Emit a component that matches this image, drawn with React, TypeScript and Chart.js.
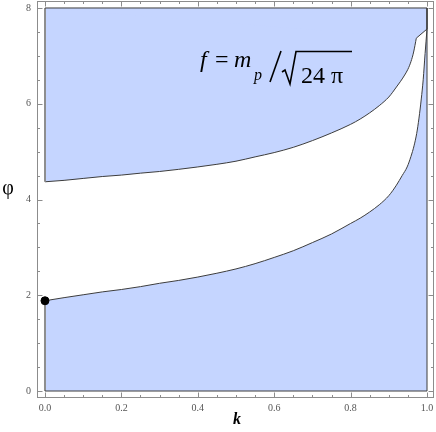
import React, { useEffect, useRef } from 'react';
import { Chart, registerables } from 'chart.js';
Chart.register(...registerables);

// Upper boundary curve φ_upper(k) (smooth part)
const upperK = [0, 0.05, 0.1, 0.15, 0.2, 0.25, 0.3, 0.35, 0.4, 0.45, 0.5, 0.55, 0.6, 0.65, 0.7, 0.75, 0.8, 0.825, 0.85, 0.875, 0.9, 0.91, 0.92, 0.93, 0.94, 0.95, 0.958, 0.965, 0.972];
const upperPhi = [4.37, 4.4, 4.44, 4.48, 4.51, 4.55, 4.585, 4.63, 4.68, 4.735, 4.8, 4.89, 4.98, 5.09, 5.23, 5.39, 5.57, 5.68, 5.81, 5.96, 6.14, 6.24, 6.35, 6.46, 6.58, 6.72, 6.88, 7.08, 7.37];
// Meeting point of both boundaries at k = 1
const cornerK = 1.0;
const cornerPhi = 7.56;
// Lower boundary curve φ_lower(k)
const lowerK = [0, 0.05, 0.1, 0.15, 0.2, 0.25, 0.3, 0.35, 0.4, 0.45, 0.5, 0.55, 0.6, 0.65, 0.7, 0.75, 0.8, 0.825, 0.85, 0.875, 0.9, 0.92, 0.935, 0.948, 0.958, 0.966, 0.973, 0.979, 0.985, 0.99, 0.995, 1.0];
const lowerPhi = [1.885, 1.95, 2.01, 2.07, 2.12, 2.18, 2.25, 2.31, 2.38, 2.46, 2.55, 2.66, 2.79, 2.93, 3.1, 3.28, 3.5, 3.61, 3.74, 3.89, 4.08, 4.3, 4.5, 4.68, 4.9, 5.12, 5.38, 5.7, 6.1, 6.5, 7.05, 7.56];
// Marked point
const markK = [0];
const markPhi = [1.885];
// Region limits
const kLo = 0;
const kHi = 1;
const phiLo = 0;
const phiHi = 8;
// Ticks
const xTicks = [0, 0.2, 0.4, 0.6, 0.8, 1.0];
const xTickLabels = ['0.0', '0.2', '0.4', '0.6', '0.8', '1.0'];
const yTicks = [0, 2, 4, 6, 8];
const yTickLabels = ['0', '2', '4', '6', '8'];
const xMinorStep = 0.05;
const yMinorStep = 0.5;
const xTitle = 'k';
const yTitle = 'φ';

const FILL = 'rgb(197,213,255)';
const EDGE = '#3c3c3c';
const SIDE = '#8e8e8e';
const SERIF = '"Liberation Serif", "DejaVu Serif", serif';

export default function App() {
  const ref = useRef<HTMLCanvasElement | null>(null);
  useEffect(() => {
    document.body.style.margin = '0';
    const canvas = ref.current!;
    const upper = upperK.map((k, i) => ({ x: k, y: upperPhi[i] }));
    const lower = lowerK.map((k, i) => ({ x: k, y: lowerPhi[i] }));
    const uEnd = upper[upper.length - 1];
    const lEnd = lower[lower.length - 1];
    const corner = { x: cornerK, y: cornerPhi };
    const topEdge = [upper[0], { x: kLo, y: phiHi }, { x: kHi, y: phiHi }, corner, uEnd];
    const botEdge = [lower[0], { x: kLo, y: phiLo }, { x: kHi, y: phiLo }, lEnd];
    const isLeftSide = (ctx: any) => ctx.p0.parsed.x === kLo && ctx.p1.parsed.x === kLo;

    const framePlugin = {
      id: 'frame',
      afterDatasetsDraw(chart: any) {
        const { ctx, chartArea: a, scales } = chart;
        const xs = scales.x;
        const ys = scales.y;
        ctx.save();
        ctx.strokeStyle = '#8c8c8c';
        ctx.lineWidth = 1;
        ctx.strokeRect(a.left + 0.5, a.top + 0.5, a.right - a.left - 1, a.bottom - a.top - 1);
        ctx.beginPath();
        const major = 5.5;
        const minor = 3;
        for (let v = 0; v <= 1.0001; v += xMinorStep) {
          const isMajor = xTicks.some((t) => Math.abs(t - v) < 1e-6);
          const len = isMajor ? major : minor;
          const px = Math.round(xs.getPixelForValue(v)) + 0.5;
          ctx.moveTo(px, a.bottom);
          ctx.lineTo(px, a.bottom - len);
          ctx.moveTo(px, a.top);
          ctx.lineTo(px, a.top + len);
        }
        for (let v = 0; v <= 8.0001; v += yMinorStep) {
          const isMajor = yTicks.some((t) => Math.abs(t - v) < 1e-6);
          const len = isMajor ? major : minor;
          const py = Math.round(ys.getPixelForValue(v)) + 0.5;
          ctx.moveTo(a.left, py);
          ctx.lineTo(a.left + len, py);
          ctx.moveTo(a.right, py);
          ctx.lineTo(a.right - len, py);
        }
        ctx.stroke();

        // tick labels
        ctx.fillStyle = '#555';
        ctx.font = `10px ${SERIF}`;
        ctx.textAlign = 'center';
        ctx.textBaseline = 'top';
        xTicks.forEach((v, i) => {
          ctx.fillText(xTickLabels[i], xs.getPixelForValue(v), a.bottom + 5);
        });
        ctx.textAlign = 'right';
        ctx.textBaseline = 'middle';
        yTicks.forEach((v, i) => {
          ctx.fillText(yTickLabels[i], a.left - 6, ys.getPixelForValue(v));
        });

        // axis titles
        ctx.fillStyle = '#000';
        ctx.textAlign = 'center';
        ctx.textBaseline = 'middle';
        ctx.font = `20px ${SERIF}`;
        ctx.fillText(yTitle, 8, 189);
        ctx.font = `italic bold 16px ${SERIF}`;
        ctx.textBaseline = 'alphabetic';
        ctx.fillText(xTitle, 237, 424);

        // formula f = m_p / sqrt(24 π)
        ctx.textAlign = 'left';
        ctx.font = `italic 24px ${SERIF}`;
        ctx.fillText('f', 200, 67);
        ctx.font = `24px ${SERIF}`;
        ctx.fillText('=', 215, 67);
        ctx.font = `italic 24px ${SERIF}`;
        ctx.fillText('m', 234, 67);
        ctx.font = `italic 16px ${SERIF}`;
        ctx.fillText('p', 254, 80);
        ctx.lineWidth = 1.6;
        ctx.strokeStyle = '#000';
        ctx.beginPath();
        ctx.moveTo(270, 82);
        ctx.lineTo(281, 51);
        ctx.stroke();
        ctx.beginPath();
        ctx.moveTo(282, 72);
        ctx.lineTo(285, 70);
        ctx.lineTo(290, 84);
        ctx.lineTo(296, 51.5);
        ctx.lineTo(352, 51.5);
        ctx.stroke();
        ctx.font = `24px ${SERIF}`;
        ctx.fillText('24 π', 301, 83);
        ctx.restore();
      },
    };

    const edgeDs = (data: any[], order: number, fill: any) => ({
      data,
      showLine: true,
      fill,
      backgroundColor: FILL,
      borderColor: EDGE,
      borderWidth: 1,
      pointRadius: 0,
      tension: 0,
      segment: {
        borderColor: (c: any) => (isLeftSide(c) ? SIDE : EDGE),
        borderWidth: (c: any) => (isLeftSide(c) ? 2 : 1),
      },
      order,
    });

    const chart = new Chart(canvas, {
      type: 'scatter',
      data: {
        datasets: [
          {
            data: markK.map((k, i) => ({ x: k, y: markPhi[i] })),
            pointRadius: 4,
            pointBackgroundColor: '#000',
            pointBorderColor: '#000',
            showLine: false,
            order: 0,
          } as any,
          {
            data: upper,
            showLine: true,
            fill: { value: phiHi },
            backgroundColor: FILL,
            borderColor: EDGE,
            borderWidth: 1,
            pointRadius: 0,
            cubicInterpolationMode: 'monotone',
            order: 4,
          } as any,
          {
            data: lower,
            showLine: true,
            fill: { value: phiLo },
            backgroundColor: FILL,
            borderColor: EDGE,
            borderWidth: 1,
            pointRadius: 0,
            cubicInterpolationMode: 'monotone',
            order: 3,
          } as any,
          edgeDs(topEdge, 2, 'shape') as any,
          edgeDs(botEdge, 1, false) as any,
        ],
      },
      options: {
        responsive: false,
        maintainAspectRatio: false,
        devicePixelRatio: 1,
        animation: false,
        layout: { autoPadding: false, padding: { top: 1, right: 2, left: 37, bottom: 34 } },
        plugins: { legend: { display: false }, tooltip: { enabled: false } },
        scales: {
          x: { type: 'linear', display: false, min: -0.0209, max: 1.0183 },
          y: { type: 'linear', display: false, min: -0.146, max: 8.146 },
        },
      } as any,
      plugins: [framePlugin],
    });
    return () => chart.destroy();
  }, []);
  return <canvas ref={ref} width={436} height={432} style={{ display: 'block', width: 436, height: 432 }} />;
}
